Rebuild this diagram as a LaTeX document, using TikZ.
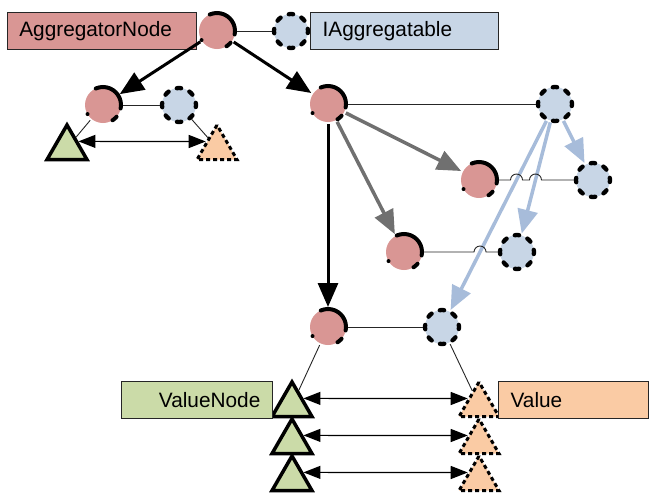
\documentclass[tikz,border=0pt]{standalone}
\usepackage{fontspec}
\setmainfont{Liberation Sans}
\definecolor{aggred}{HTML}{D99694}
\definecolor{iaggblue}{HTML}{C8D6E6}
\definecolor{valgreen}{HTML}{CBDBA8}
\definecolor{valpeach}{HTML}{FACBA4}
\definecolor{linkblue}{HTML}{A7BCDA}
\definecolor{linkgray}{HTML}{707070}
\usetikzlibrary{arrows.meta,positioning,shapes.geometric,calc}

\begin{document}
\begin{tikzpicture}[x=1pt, y=-1pt,
  font=\fontsize{20.8}{24}\selectfont,
  aggcirc/.style={circle, minimum size=36pt, inner sep=0pt, fill=aggred,
    draw=black, line width=4pt, line cap=round, outer sep=2pt,
    dash pattern=on 39.36pt off 30.28pt on 0pt off 28.7pt on 5.43pt off 9.33pt,
    dash phase=3.66pt},
  iaggcirc/.style={circle, minimum size=34pt, inner sep=0pt, fill=iaggblue,
    draw=black, line width=4.3pt, line cap=round, outer sep=2pt,
    dash pattern=on 4.35pt off 9pt, dash phase=2.17pt},
  valtri/.style={regular polygon, regular polygon sides=3, minimum size=46pt,
    inner sep=0pt, fill=valgreen, draw=black, line width=3.5pt},
  valdash/.style={valtri, fill=valpeach, line width=3pt, dash pattern=on 4pt off 3pt},
  tagbox/.style={draw=black!85, line width=1.3pt, minimum height=37pt,
    inner xsep=12pt, inner ysep=0pt},
  link/.style={line width=0.9pt, black!85},
  nest/.style={line width=3pt, -{Triangle[length=24pt,width=20pt]}},
  pair/.style={line width=1.2pt,
    {Triangle[length=17pt,width=13pt]}-{Triangle[length=17pt,width=13pt]}},
]
  \useasboundingbox (0,0) rectangle (654,496);

  \node[aggcirc] (ra) at (217,31) {};
  \node[iaggcirc] (ri) at (291,31) {};
  \node[tagbox, fill=aggred, left=0pt of ra, text width=165pt, align=left] (ran) {AggregatorNode};
  \node[tagbox, fill=iaggblue, right=0pt of ri, text width=164pt, align=left] (rin) {IAggregatable};

  \node[aggcirc] (la) at (103,105) {};
  \node[iaggcirc] (li) at (179,105) {};
  \node[valtri] (lv) at (67,148) {};
  \node[valdash] (lw) at (217,148) {};

  \node[aggcirc] (ma) at (328,104) {};
  \node[iaggcirc] (mi) at (555,104) {};
  \node[aggcirc] (ca) at (479,180) {};
  \node[iaggcirc] (ci) at (593,180) {};
  \node[aggcirc] (da) at (404,252) {};
  \node[iaggcirc] (di) at (517,252) {};
  \node[aggcirc] (ba) at (328,327) {};
  \node[iaggcirc] (bi) at (442,327) {};

  \foreach \i/\y in {1/405,2/442,3/479} {
    \node[valtri] (v\i) at (292,\y) {};
    \node[valdash] (w\i) at (479,\y) {};
    \draw[pair] (v\i.side 3) -- (w\i.side 1);
  }
  \node[tagbox, fill=valgreen, text width=127pt, align=right, anchor=east] (vn) at (273,400) {ValueNode};
  \node[tagbox, fill=valpeach, text width=126pt, align=left, anchor=west] (vl) at (498,400) {Value};

  \draw[link] (ra) -- (ri);
  \draw[link] (la) -- (li);
  \draw[link] (ma) -- (mi);
  \draw[link] (ba) -- (bi);
  \draw[link] (la) -- (lv);
  \draw[link] (li) -- (lw);
  \draw[link] (ba) -- (v1);
  \draw[link] (bi) -- (w1);
  \draw[pair] (lv.side 3) -- (lw.side 1);

  \draw[nest] (ra) -- (la);
  \draw[nest] (ra) -- (ma);
  \draw[nest] (ma) -- (ba);
  \draw[nest, linkgray, line width=3.5pt] (ma) -- (ca);
  \draw[nest, linkgray, line width=3.5pt] (ma) -- (da);
  \draw[nest, linkblue, line width=3.5pt] (mi) -- (ci);
  \draw[nest, linkblue, line width=3.5pt] (mi) -- (di);
  \draw[nest, linkblue, line width=3.5pt] (mi) -- (bi);

  \coordinate (h1) at (intersection of mi--bi and ca--ci);
  \coordinate (h2) at (intersection of mi--di and ca--ci);
  \coordinate (h3) at (intersection of mi--bi and da--di);
  \draw[link] (ca) -- ($(h1)+(-6,0)$) arc[start angle=180, end angle=0, radius=6pt]
    -- ($(h2)+(-6,0)$) arc[start angle=180, end angle=0, radius=6pt] -- (ci);
  \draw[link] (da) -- ($(h3)+(-6,0)$) arc[start angle=180, end angle=0, radius=6pt] -- (di);
\end{tikzpicture}
\end{document}
